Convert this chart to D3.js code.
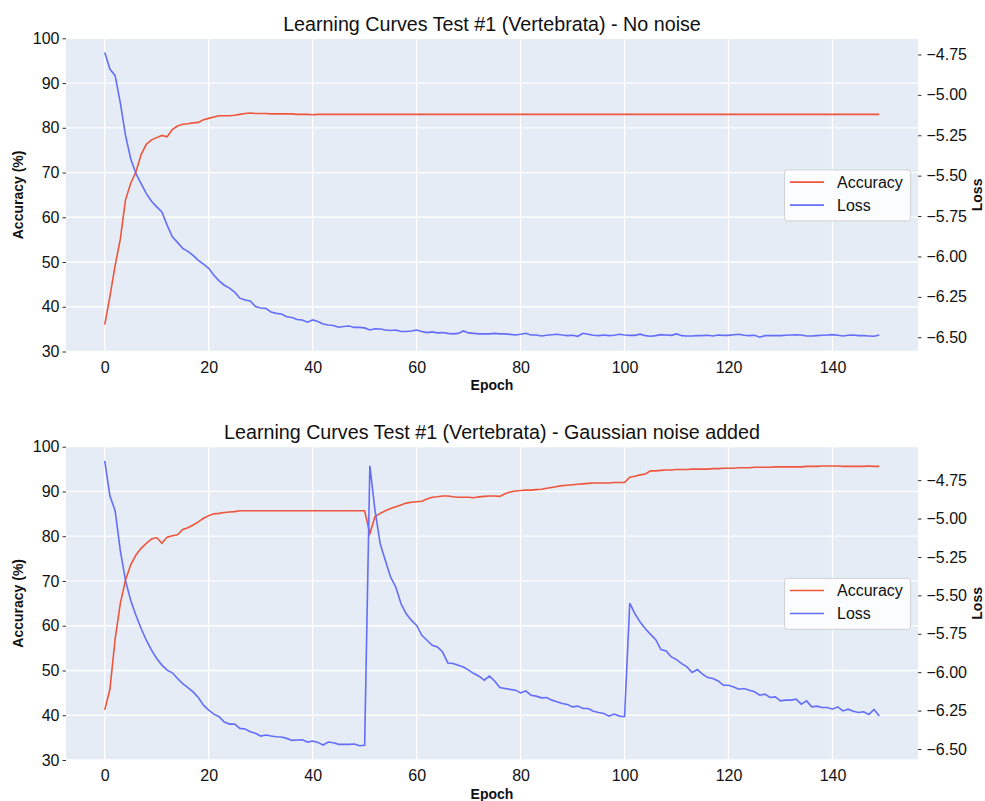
<!DOCTYPE html>
<html>
<head>
<meta charset="utf-8">
<script src="https://cdn.jsdelivr.net/npm/d3@7"></script>
<style>
  body { margin: 0; background: #fff; }
  svg { display: block; font-family: "Liberation Sans", Arial, Helvetica, sans-serif; }
  .tick-label { font-size: 16px; fill: #111; }
  .axis-title { font-size: 14px; font-weight: bold; fill: #111; }
  .chart-title { font-size: 19.7px; fill: #111; }
</style>
</head>
<body>
<svg id="chart" width="985" height="801"></svg>
<script>
// data
var epochs = d3.range(150);

var accNoNoise = [
  36.0, 42.3, 49.2, 55.1, 63.9, 67.6, 70.1, 74.0, 76.3, 77.3,
  77.8, 78.3, 78.0, 79.6, 80.4, 80.8, 80.9, 81.1, 81.2, 81.8,
  82.1, 82.4, 82.7, 82.7, 82.7, 82.8, 83.0, 83.2, 83.3, 83.2,
  83.2, 83.2, 83.1, 83.1, 83.1, 83.1, 83.1, 83.0, 83.0, 83.0,
  82.9, 83.0, 83.0, 83.0, 83.0, 83.0, 83.0, 83.0, 83.0, 83.0,
  83.0, 83.0, 83.0, 83.0, 83.0, 83.0, 83.0, 83.0, 83.0, 83.0,
  83.0, 83.0, 83.0, 83.0, 83.0, 83.0, 83.0, 83.0, 83.0, 83.0,
  83.0, 83.0, 83.0, 83.0, 83.0, 83.0, 83.0, 83.0, 83.0, 83.0,
  83.0, 83.0, 83.0, 83.0, 83.0, 83.0, 83.0, 83.0, 83.0, 83.0,
  83.0, 83.0, 83.0, 83.0, 83.0, 83.0, 83.0, 83.0, 83.0, 83.0,
  83.0, 83.0, 83.0, 83.0, 83.0, 83.0, 83.0, 83.0, 83.0, 83.0,
  83.0, 83.0, 83.0, 83.0, 83.0, 83.0, 83.0, 83.0, 83.0, 83.0,
  83.0, 83.0, 83.0, 83.0, 83.0, 83.0, 83.0, 83.0, 83.0, 83.0,
  83.0, 83.0, 83.0, 83.0, 83.0, 83.0, 83.0, 83.0, 83.0, 83.0,
  83.0, 83.0, 83.0, 83.0, 83.0, 83.0, 83.0, 83.0, 83.0, 83.0
];

var lossNoNoise = [
  -4.738, -4.840, -4.881, -5.049, -5.251, -5.395, -5.488, -5.549, -5.611, -5.658,
  -5.693, -5.724, -5.806, -5.878, -5.913, -5.950, -5.968, -5.993, -6.024, -6.048,
  -6.073, -6.116, -6.151, -6.178, -6.196, -6.221, -6.258, -6.270, -6.276, -6.310,
  -6.319, -6.321, -6.344, -6.352, -6.356, -6.373, -6.378, -6.390, -6.393, -6.407,
  -6.393, -6.403, -6.418, -6.424, -6.427, -6.438, -6.433, -6.430, -6.439, -6.439,
  -6.442, -6.455, -6.447, -6.449, -6.455, -6.458, -6.455, -6.464, -6.464, -6.461,
  -6.455, -6.464, -6.471, -6.467, -6.473, -6.471, -6.476, -6.479, -6.476, -6.461,
  -6.473, -6.476, -6.479, -6.479, -6.479, -6.476, -6.479, -6.479, -6.482, -6.486,
  -6.481, -6.475, -6.486, -6.486, -6.492, -6.488, -6.484, -6.481, -6.486, -6.490,
  -6.488, -6.494, -6.475, -6.481, -6.488, -6.490, -6.486, -6.490, -6.488, -6.481,
  -6.486, -6.488, -6.488, -6.481, -6.490, -6.494, -6.490, -6.484, -6.486, -6.488,
  -6.479, -6.490, -6.492, -6.492, -6.490, -6.490, -6.488, -6.492, -6.486, -6.488,
  -6.488, -6.484, -6.481, -6.488, -6.490, -6.488, -6.500, -6.490, -6.490, -6.490,
  -6.490, -6.488, -6.486, -6.484, -6.486, -6.492, -6.492, -6.490, -6.488, -6.486,
  -6.484, -6.488, -6.492, -6.488, -6.486, -6.490, -6.490, -6.492, -6.494, -6.486
];

var accNoise = [
  41.2, 45.8, 57.0, 65.0, 70.2, 73.6, 75.8, 77.3, 78.4, 79.4,
  79.7, 78.4, 79.8, 80.1, 80.3, 81.5, 81.9, 82.5, 83.2, 84.0,
  84.6, 85.0, 85.1, 85.3, 85.4, 85.5, 85.7, 85.7, 85.7, 85.7,
  85.7, 85.7, 85.7, 85.7, 85.7, 85.7, 85.7, 85.7, 85.7, 85.7,
  85.7, 85.7, 85.7, 85.7, 85.7, 85.7, 85.7, 85.7, 85.7, 85.7,
  85.7, 80.6, 84.4, 85.1, 85.7, 86.2, 86.6, 87.0, 87.4, 87.6,
  87.7, 87.8, 88.3, 88.7, 88.8, 89.0, 89.0, 88.8, 88.7, 88.7,
  88.7, 88.6, 88.8, 88.9, 89.0, 89.0, 88.9, 89.5, 89.9, 90.1,
  90.2, 90.3, 90.3, 90.4, 90.5, 90.7, 90.9, 91.1, 91.3, 91.4,
  91.5, 91.6, 91.7, 91.8, 91.9, 91.9, 91.9, 91.9, 92.0, 92.0,
  92.0, 93.2, 93.4, 93.7, 93.9, 94.6, 94.6, 94.7, 94.8, 94.8,
  94.9, 94.9, 94.9, 95.0, 95.0, 95.0, 95.0, 95.1, 95.1, 95.2,
  95.2, 95.2, 95.3, 95.3, 95.3, 95.4, 95.4, 95.4, 95.4, 95.5,
  95.5, 95.5, 95.5, 95.5, 95.5, 95.6, 95.6, 95.6, 95.7, 95.7,
  95.7, 95.7, 95.6, 95.6, 95.6, 95.6, 95.6, 95.7, 95.6, 95.6
];

var lossNoise = [
  -4.625, -4.852, -4.949, -5.209, -5.404, -5.533, -5.630, -5.716, -5.792, -5.857,
  -5.911, -5.954, -5.987, -6.004, -6.041, -6.074, -6.100, -6.128, -6.165, -6.215,
  -6.247, -6.273, -6.290, -6.325, -6.338, -6.338, -6.366, -6.370, -6.388, -6.398,
  -6.416, -6.409, -6.416, -6.420, -6.422, -6.431, -6.444, -6.442, -6.440, -6.455,
  -6.448, -6.457, -6.474, -6.455, -6.459, -6.470, -6.470, -6.470, -6.468, -6.479,
  -6.476, -4.657, -4.949, -5.165, -5.274, -5.382, -5.447, -5.555, -5.620, -5.663,
  -5.696, -5.760, -5.792, -5.825, -5.836, -5.869, -5.940, -5.944, -5.955, -5.966,
  -5.987, -6.009, -6.026, -6.052, -6.026, -6.057, -6.100, -6.106, -6.112, -6.117,
  -6.135, -6.122, -6.150, -6.156, -6.167, -6.165, -6.182, -6.193, -6.204, -6.210,
  -6.226, -6.221, -6.236, -6.236, -6.254, -6.262, -6.269, -6.286, -6.273, -6.286,
  -6.290, -5.551, -5.620, -5.674, -5.717, -5.754, -5.788, -5.853, -5.862, -5.901,
  -5.918, -5.944, -5.966, -6.002, -5.983, -6.013, -6.035, -6.041, -6.057, -6.085,
  -6.085, -6.096, -6.111, -6.106, -6.117, -6.128, -6.150, -6.143, -6.165, -6.161,
  -6.187, -6.182, -6.182, -6.176, -6.208, -6.187, -6.226, -6.221, -6.230, -6.230,
  -6.241, -6.226, -6.252, -6.241, -6.254, -6.262, -6.258, -6.275, -6.243, -6.286
];

var epochTicks = [0, 20, 40, 60, 80, 100, 120, 140];
var accTicks = [30, 40, 50, 60, 70, 80, 90, 100];
var lossTicks = [-6.5, -6.25, -6.0, -5.75, -5.5, -5.25, -5.0, -4.75];
var titles = [
  "Learning Curves Test #1 (Vertebrata) - No noise",
  "Learning Curves Test #1 (Vertebrata) - Gaussian noise added"
];
var seriesNames = ["Accuracy", "Loss"];

var colors = { acc: "#EF553B", loss: "#636EFA", bg: "#E5ECF6" };

var svg = d3.select("#chart");

// matplotlib style 5% margins around the data
function padded(values) {
  var ext = d3.extent(values), pad = (ext[1] - ext[0]) * 0.05;
  return [ext[0] - pad, ext[1] + pad];
}

var left = 66, right = 918;
var panels = [
  { top: 38.3, bottom: 351.5, acc: accNoNoise, loss: lossNoNoise, title: titles[0] },
  { top: 446.7, bottom: 760, acc: accNoise, loss: lossNoise, title: titles[1] }
];

var x = d3.scaleLinear().domain(padded(epochs)).range([left, right]);
var fmtLoss = function(d) { return d3.format(".2f")(d).replace("-", "\u2212"); };

panels.forEach(function(p) {
  var yAcc = d3.scaleLinear().domain([30, 100]).range([p.bottom, p.top]),
      yLoss = d3.scaleLinear().domain(padded(p.loss)).range([p.bottom, p.top]);

  var g = svg.append("g");

  g.append("rect")
    .attr("x", left).attr("y", p.top)
    .attr("width", right - left).attr("height", p.bottom - p.top)
    .attr("fill", colors.bg);

  // grid
  g.selectAll(".vgrid").data(epochTicks).enter().append("line")
    .attr("x1", function(d) { return x(d); }).attr("x2", function(d) { return x(d); })
    .attr("y1", p.top).attr("y2", p.bottom)
    .attr("stroke", "#fff").attr("stroke-width", 1.3);
  g.selectAll(".hgrid").data(accTicks).enter().append("line")
    .attr("x1", left).attr("x2", right)
    .attr("y1", function(d) { return yAcc(d); }).attr("y2", function(d) { return yAcc(d); })
    .attr("stroke", "#fff").attr("stroke-width", 1.3);

  // axes
  var xAxis = d3.axisBottom(x).tickValues(epochTicks).tickSize(0).tickPadding(10);
  var gx = g.append("g").attr("transform", "translate(0," + p.bottom + ")").call(xAxis);

  var yAxisL = d3.axisLeft(yAcc).tickValues(accTicks).tickSize(3.5).tickPadding(3);
  var gyl = g.append("g").attr("transform", "translate(" + left + ",0)").call(yAxisL);

  var yAxisR = d3.axisRight(yLoss).tickValues(lossTicks).tickSize(3.5).tickPadding(5).tickFormat(fmtLoss);
  var gyr = g.append("g").attr("transform", "translate(" + right + ",0)").call(yAxisR);

  [gx, gyl, gyr].forEach(function(ax) {
    ax.select(".domain").remove();
    ax.selectAll(".tick line").attr("stroke", "#333");
    ax.selectAll(".tick text").attr("class", "tick-label").attr("fill", "#111");
  });

  // lines
  var accLine = d3.line().x(function(d, i) { return x(epochs[i]); }).y(function(d) { return yAcc(d); });
  var lossLine = d3.line().x(function(d, i) { return x(epochs[i]); }).y(function(d) { return yLoss(d); });

  g.append("path").datum(p.acc).attr("d", accLine)
    .attr("fill", "none").attr("stroke", colors.acc).attr("stroke-width", 1.6);
  g.append("path").datum(p.loss).attr("d", lossLine)
    .attr("fill", "none").attr("stroke", colors.loss).attr("stroke-width", 1.6);

  // titles and labels
  g.append("text").attr("class", "chart-title")
    .attr("x", (left + right) / 2).attr("y", p.top - 7.5)
    .attr("text-anchor", "middle").text(p.title);

  g.append("text").attr("class", "axis-title")
    .attr("x", (left + right) / 2).attr("y", p.bottom + 38.5)
    .attr("text-anchor", "middle").text("Epoch");

  var mid = (p.top + p.bottom) / 2;
  g.append("text").attr("class", "axis-title")
    .attr("transform", "translate(23," + mid + ") rotate(-90)")
    .attr("text-anchor", "middle").text("Accuracy (%)");
  g.append("text").attr("class", "axis-title")
    .attr("transform", "translate(981.5," + mid + ") rotate(-90)")
    .attr("text-anchor", "middle").text("Loss");

  // legend, center right
  var lw = 126, lh = 51,
      lx = right - 8 - lw, ly = mid - lh / 2;
  var leg = g.append("g").attr("transform", "translate(" + lx + "," + ly + ")");
  leg.append("rect")
    .attr("x", 0.5).attr("y", 0.5).attr("width", lw).attr("height", lh)
    .attr("rx", 3).attr("fill", "#fff").attr("fill-opacity", 0.85)
    .attr("stroke", "#d0d0d0");
  [colors.acc, colors.loss].forEach(function(c, i) {
    var cy = 12.7 + i * 23;
    leg.append("line").attr("x1", 6).attr("x2", 40).attr("y1", cy).attr("y2", cy)
      .attr("stroke", c).attr("stroke-width", 1.6);
    leg.append("text").attr("class", "tick-label")
      .attr("x", 53).attr("y", cy).attr("dy", "0.35em").text(seriesNames[i]);
  });
});
</script>
</body>
</html>
